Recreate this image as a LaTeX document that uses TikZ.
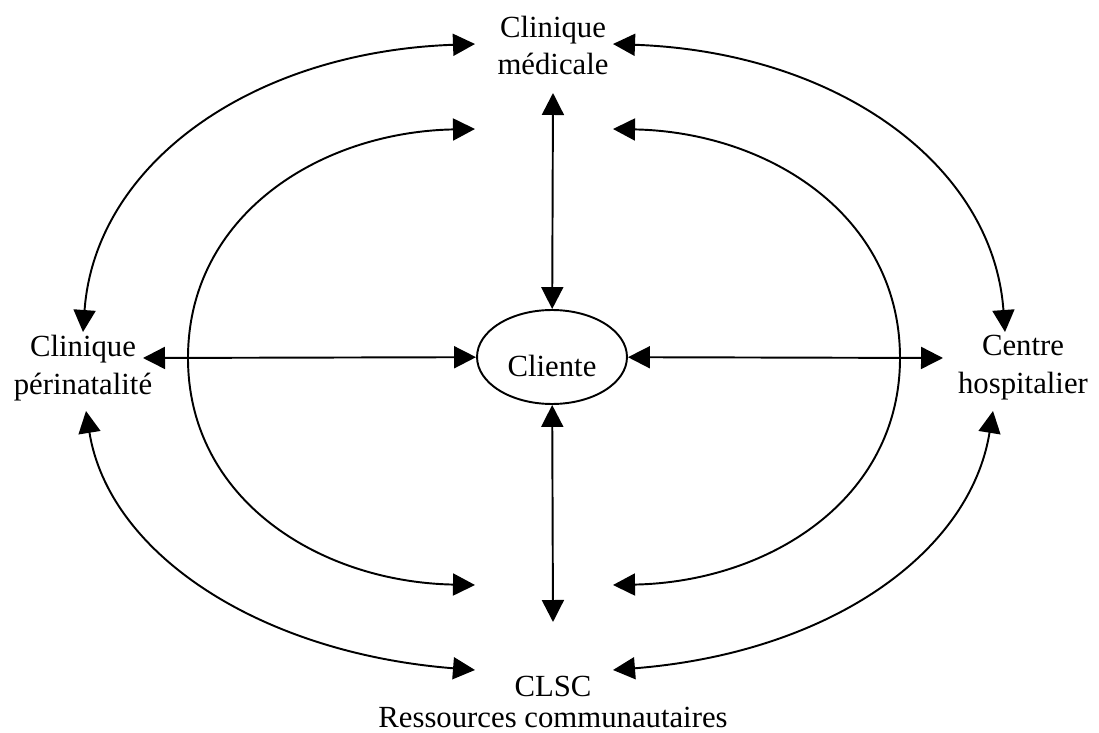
\documentclass[tikz,border=0pt]{standalone}
\usepackage{fontspec}
\setmainfont{Liberation Serif}
\usetikzlibrary{arrows.meta,shapes.geometric}
\tikzset{
  lbl/.style={align=center, inner sep=0pt, font=\fontsize{17.5}{21.6}\selectfont},
  link/.style={line width=1.1pt, {Triangle[length=0.44cm,width=0.44cm]}-{Triangle[length=0.44cm,width=0.44cm]}},
  client/.style={ellipse, draw, line width=1.1pt, minimum width=3cm, minimum height=1.88cm,
    inner sep=0pt, text height=0.8cm, font=\fontsize{17.5}{21.6}\selectfont},
}
\begin{document}
\begin{tikzpicture}[x=0.02cm, y=-0.02cm]
  \useasboundingbox (0,0) rectangle (1099,733);
  \node [lbl] (medicale) at (553,45.5) {Clinique\\médicale};
  \node [lbl] (perinat) at (83,368) {Clinique\\périnatalité};
  \node [lbl] (hopital) at (1023,368) {Centre\\hospitalier};
  \node [lbl, anchor=base] (clsc) at (553,696) {CLSC};
  \node [lbl, anchor=base] (ressources) at (553,727) {Ressources communautaires};
  \node [client] (cliente) at (552,357) {Cliente};
  % arrow ends
  \coordinate (haut) at (553,93);
  \coordinate (bas) at (553,622);
  \coordinate (gauche) at (143,358);
  \coordinate (droite) at (943,358);
  \draw [link] (cliente) -- (haut);
  \draw [link] (cliente) -- (bas);
  \draw [link] (cliente) -- (gauche);
  \draw [link] (cliente) -- (droite);
  % outer arcs
  \coordinate (ohg) at (475,44);   \coordinate (ohd) at (613,44);
  \coordinate (ogh) at (83,332);   \coordinate (odh) at (1005,332);
  \coordinate (ogb) at (86,411);   \coordinate (odb) at (993,411);
  \coordinate (obg) at (475,670);  \coordinate (obd) at (613,670);
  \draw [link] (ohg) .. controls (250,52) and (95,165) .. (ogh);
  \draw [link] (ohd) .. controls (838,52) and (993,165) .. (odh);
  \draw [link] (ogb) .. controls (109,554) and (260,653) .. (obg);
  \draw [link] (odb) .. controls (970,554) and (828,653) .. (obd);
  % inner arcs
  \coordinate (ihg) at (475,129);  \coordinate (ihd) at (613,129);
  \coordinate (ibg) at (475,585);  \coordinate (ibd) at (613,585);
  \draw [link] (ihg) .. controls (320,132) and (188,215) .. (188,358)
    .. controls (188,500) and (320,582) .. (ibg);
  \draw [link] (ihd) .. controls (768,132) and (900,215) .. (900,358)
    .. controls (900,500) and (768,582) .. (ibd);
\end{tikzpicture}
\end{document}
